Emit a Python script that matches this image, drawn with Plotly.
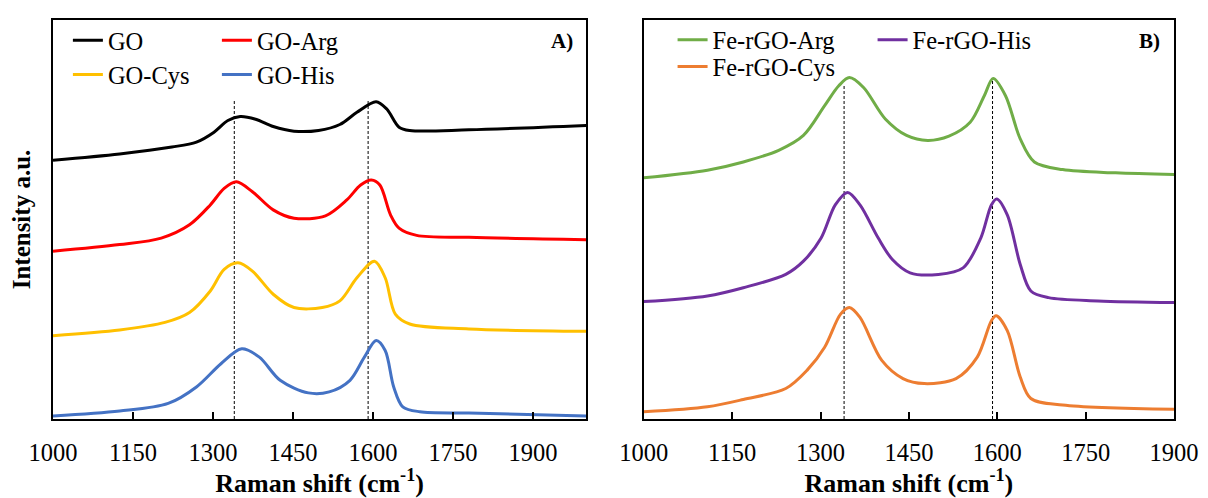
import plotly.graph_objects as go

# ---------------- Panel A data (Raman shift, intensity a.u.) ----------------
wn_go = [1000, 1125, 1223, 1269, 1302, 1328, 1351, 1380, 1413, 1452, 1498, 1538, 1570, 1606, 1626, 1649, 1669, 1780, 2000]
int_go = [260.7, 267, 274, 279, 289, 300.7, 304.7, 302, 294.7, 290, 290.7, 296.7, 309, 319.7, 312.3, 294, 290.7, 291.3, 295.7]

wn_arg = [1000, 1125, 1203, 1256, 1295, 1321, 1344, 1374, 1413, 1452, 1511, 1551, 1577, 1597, 1613, 1633, 1649, 1682, 1780, 2000]
int_arg = [169, 175.7, 182.3, 195.7, 215.7, 232.3, 239, 229, 210.7, 202.3, 204.7, 220.7, 235.7, 240.7, 235.7, 205.7, 192.3, 185, 183, 180.7]

wn_cys = [1000, 1125, 1210, 1256, 1295, 1321, 1347, 1374, 1413, 1452, 1505, 1538, 1570, 1603, 1623, 1642, 1669, 1780, 2000]
int_cys = [84, 89.7, 97.3, 107.3, 129, 150.7, 157.3, 149, 125.7, 112.3, 112.3, 119, 142.3, 159, 142.3, 105.7, 95.7, 90.7, 88.3]

wn_his = [1000, 1125, 1216, 1269, 1315, 1354, 1387, 1426, 1479, 1518, 1557, 1584, 1606, 1623, 1639, 1656, 1688, 1780, 2000]
int_his = [3, 8, 15.7, 32.3, 55.7, 70.7, 62.3, 39, 26.3, 27.3, 39, 62.3, 79, 69, 32.3, 12.3, 7.3, 6, 3]

# ---------------- Panel B data ----------------
wn_fe_arg = [1000, 1108, 1169, 1229, 1271, 1307, 1331, 1349, 1373, 1410, 1446, 1482, 1518, 1554, 1578, 1593, 1614, 1639, 1663, 1711, 1801, 1900]
int_fe_arg = [243, 250.7, 259, 270.7, 285.7, 315.7, 335.7, 344, 334, 302.3, 285.7, 280.7, 285, 299, 325.7, 343, 325.7, 282.3, 259, 251.3, 248, 246.3]

wn_fe_his = [1000, 1108, 1169, 1241, 1271, 1301, 1325, 1346, 1367, 1398, 1422, 1452, 1500, 1542, 1572, 1590, 1599, 1617, 1639, 1657, 1687, 1771, 1900]
int_fe_his = [118.3, 124, 132.3, 145.7, 159, 182.3, 215.7, 228.3, 215.7, 182.3, 160.7, 147.3, 145.7, 152.3, 182.3, 215.7, 221.7, 205.7, 155.7, 129, 122.3, 119, 117.3]

wn_fe_cys = [1000, 1108, 1169, 1241, 1277, 1307, 1334, 1349, 1367, 1404, 1440, 1476, 1530, 1566, 1590, 1598, 1617, 1639, 1657, 1711, 1900]
int_fe_cys = [7.3, 12.3, 19.7, 30.7, 49, 72.3, 105.7, 112.3, 102.3, 59, 40.7, 35.7, 40.7, 62.3, 99, 104, 89, 42.3, 20.7, 14, 9.7]

# reference band positions (D and G) and heights of the guide lines
bands_a = [1340, 1591]
band_tops_a = [321, 321]
bands_b = [1340, 1592]
band_tops_b = [337, 342]

x_ticks = [1000, 1150, 1300, 1450, 1600, 1750, 1900]

# page body has an 8px margin, so the figure is 8px smaller and offset
OFF = 8
W, H = 1208 - OFF, 498 - OFF
ML, MT = 53 - OFF, 17 - OFF
MR = W - (1182 - OFF)
MB = H - (419 - OFF)
PW, PH = W - ML - MR, H - MT - MB


def pxx(px):  # reference-image pixel -> paper x
    return (px - OFF - ML) / PW


def pxy(py):  # reference-image pixel -> paper y
    return (H - MB - (py - OFF)) / PH


fig = go.Figure()

series_a = [
    ("GO", wn_go, int_go, "#000000", "legend"),
    ("GO-Arg", wn_arg, int_arg, "#FF0000", "legend"),
    ("GO-Cys", wn_cys, int_cys, "#FFC000", "legend2"),
    ("GO-His", wn_his, int_his, "#4472C4", "legend2"),
]
series_b = [
    ("Fe-rGO-Arg", wn_fe_arg, int_fe_arg, "#70AD47", "legend3"),
    ("Fe-rGO-His", wn_fe_his, int_fe_his, "#7030A0", "legend3"),
    ("Fe-rGO-Cys", wn_fe_cys, int_fe_cys, "#ED7D31", "legend4"),
]

for xb, top in zip(bands_a, band_tops_a):
    fig.add_trace(go.Scatter(x=[xb, xb], y=[0, top], mode="lines", showlegend=False,
                             line=dict(color="black", width=1, dash="3px,2px"),
                             xaxis="x", yaxis="y", hoverinfo="skip"))
for xb, top in zip(bands_b, band_tops_b):
    fig.add_trace(go.Scatter(x=[xb, xb], y=[0, top], mode="lines", showlegend=False,
                             line=dict(color="black", width=1, dash="3px,2px"),
                             xaxis="x2", yaxis="y2", hoverinfo="skip"))

for name, xs, ys, col, lg in series_a:
    fig.add_trace(go.Scatter(x=xs, y=ys, name=name, mode="lines",
                             line=dict(color=col, width=3, shape="spline", smoothing=0.9),
                             xaxis="x", yaxis="y", legend=lg))
for name, xs, ys, col, lg in series_b:
    fig.add_trace(go.Scatter(x=xs, y=ys, name=name, mode="lines",
                             line=dict(color=col, width=3, shape="spline", smoothing=0.9),
                             xaxis="x2", yaxis="y2", legend=lg))

font_family = "Liberation Serif, Times New Roman, serif"

xaxis_common = dict(
    tickvals=x_ticks, ticks="inside", ticklen=7, tickwidth=1.5,
    tickcolor="black", showline=True, linecolor="black", linewidth=1.5, mirror=True,
    showgrid=False, zeroline=False, ticklabelstandoff=11,
    tickfont=dict(family=font_family, size=24.5, color="black"),
    title=dict(text="<b>Raman shift (cm<sup>-1</sup>)</b>",
               font=dict(family=font_family, size=26, color="black"), standoff=4),
)
yaxis_common = dict(range=[0, 402], showticklabels=False, ticks="", showline=True,
                    linecolor="black", linewidth=1.5, mirror=True, showgrid=False, zeroline=False)

legend_common = dict(orientation="h", xanchor="left", yanchor="middle",
                     font=dict(family=font_family, size=24.5, color="black"),
                     bgcolor="rgba(0,0,0,0)", borderwidth=0, entrywidthmode="pixels",
                     itemwidth=30, tracegroupgap=0)

fig.update_layout(
    width=W, height=H,
    margin=dict(l=ML, r=MR, t=MT, b=MB),
    paper_bgcolor="white", plot_bgcolor="white",
    font=dict(family=font_family, color="black"),
    xaxis=dict(domain=[0, pxx(590)], range=[1000, 2000], anchor="y", **xaxis_common),
    yaxis=dict(domain=[0, 1], anchor="x",
               title=dict(text="<b>Intensity a.u.</b>",
                          font=dict(family=font_family, size=25, color="black"), standoff=16),
               **yaxis_common),
    xaxis2=dict(domain=[pxx(648), 1], range=[1000, 1900], anchor="y2", **xaxis_common),
    yaxis2=dict(domain=[0, 1], anchor="x2", **yaxis_common),
    legend=dict(x=pxx(68), y=pxy(37.5), entrywidth=104, **legend_common),
    legend2=dict(x=pxx(68), y=pxy(72), entrywidth=104, **legend_common),
    legend3=dict(x=pxx(677), y=pxy(37), entrywidth=155, **legend_common),
    legend4=dict(x=pxx(677), y=pxy(64), entrywidth=155, **legend_common),
    annotations=[
        dict(text="<b>A)</b>", x=pxx(566), y=pxy(38), xref="paper", yref="paper",
             xanchor="center", yanchor="middle", showarrow=False,
             font=dict(family=font_family, size=21, color="black")),
        dict(text="<b>B)</b>", x=pxx(1157), y=pxy(38), xref="paper", yref="paper",
             xanchor="center", yanchor="middle", showarrow=False,
             font=dict(family=font_family, size=21, color="black")),
    ],
)

fig.write_html("out.html")
